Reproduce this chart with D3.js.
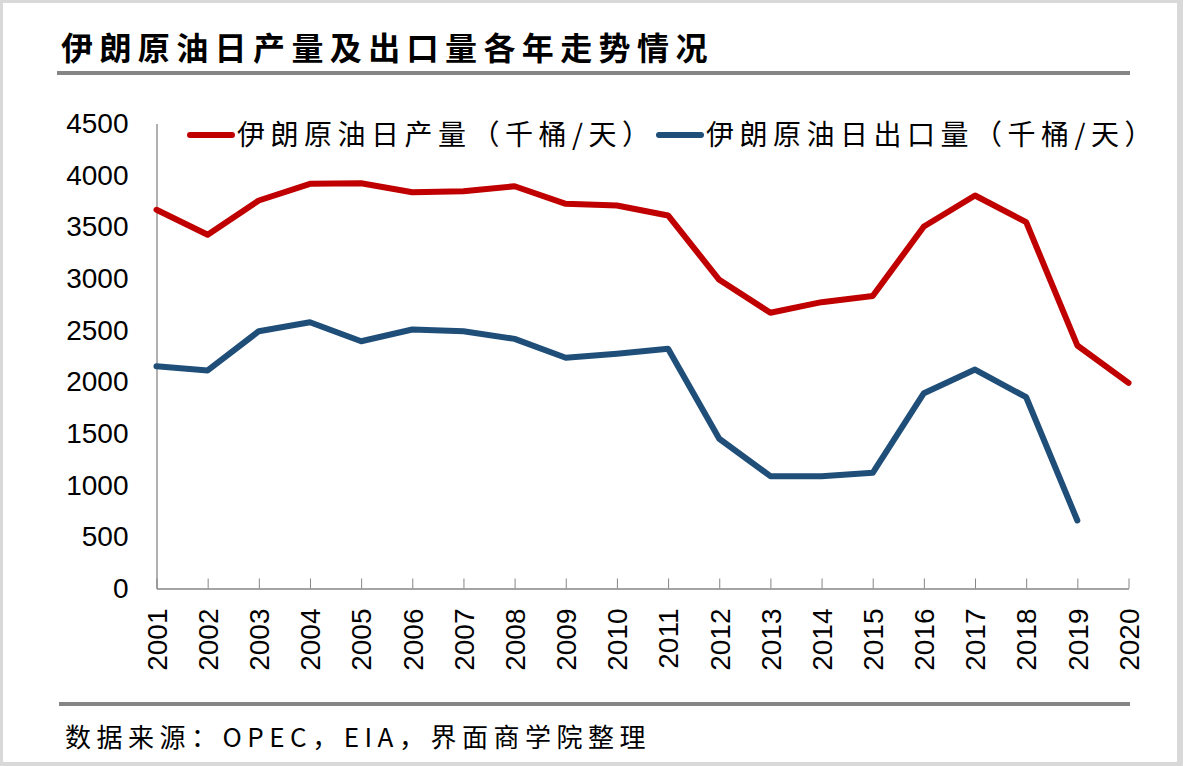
<!DOCTYPE html>
<html>
<head>
<meta charset="utf-8">
<script src="https://cdn.jsdelivr.net/npm/d3@7/dist/d3.min.js"></script>
<style>
  html, body { margin: 0; padding: 0; background: #d9d9d9; }
  svg { display: block; }
</style>
</head>
<body>
<svg id="chart" width="1183" height="766"></svg>
<script>
// ---- data ----
const years = ["2001","2002","2003","2004","2005","2006","2007","2008","2009","2010",
               "2011","2012","2013","2014","2015","2016","2017","2018","2019","2020"];
const production = [3665, 3423, 3755, 3916, 3922, 3835, 3845, 3893, 3723, 3706,
                    3610, 2987, 2668, 2771, 2830, 3503, 3803, 3545, 2352, 1990];
const exports = [2151, 2110, 2490, 2577, 2393, 2506, 2490, 2416, 2233, 2271,
                 2320, 1449, 1087, 1087, 1120, 1890, 2119, 1851, 658, null];
const yTicks = [0, 500, 1000, 1500, 2000, 2500, 3000, 3500, 4000, 4500];
const seriesNames = ["伊朗原油日产量（千桶/天）", "伊朗原油日出口量（千桶/天）"];
const titleText = "伊朗原油日产量及出口量各年走势情况";
const sourceText = "数据来源：OPEC，EIA，界面商学院整理";

const colors = ["#C00000", "#1F4E79"];
const svg = d3.select("#chart");

// frame
svg.append("rect").attr("x", 3).attr("y", 3).attr("width", 1174).attr("height", 759).attr("fill", "#ffffff");

// title
svg.append("text").attr("x", 61).attr("y", 60)
  .attr("font-family", "'Noto Sans CJK SC', sans-serif")
  .attr("font-size", 32).attr("font-weight", "bold")
  .attr("letter-spacing", 6.4).attr("fill", "#000")
  .text(titleText);
svg.append("line").attr("x1", 57).attr("x2", 1130).attr("y1", 73).attr("y2", 73)
  .attr("stroke", "#858585").attr("stroke-width", 4);

// footer
svg.append("line").attr("x1", 59).attr("x2", 1130).attr("y1", 704).attr("y2", 704)
  .attr("stroke", "#858585").attr("stroke-width", 4);
svg.append("text").attr("x", 65).attr("y", 747)
  .attr("font-family", "'Noto Sans CJK SC', sans-serif")
  .attr("font-size", 26).attr("letter-spacing", 5.5).attr("fill", "#000")
  .text(sourceText);

// scales
const x = d3.scalePoint().domain(years).range([156.5, 1128.5]);
const y = d3.scaleLinear().domain([0, 4500]).range([588.5, 123.5]);

// y axis
const yAxis = d3.axisLeft(y).tickValues(yTicks).tickFormat(d3.format("d")).tickSize(0).tickPadding(28);
const gy = svg.append("g").attr("transform", "translate(156.5,0)").call(yAxis);
gy.select(".domain").attr("stroke", "#868686").attr("stroke-width", 1.3);
gy.selectAll("text").attr("font-family", "'Liberation Sans', Arial, sans-serif")
  .attr("font-size", 28).attr("fill", "#000");

// x axis
const xAxis = d3.axisBottom(x).tickSize(-10).tickSizeOuter(0);
const gx = svg.append("g").attr("transform", "translate(0,588.5)").call(xAxis);
gx.select(".domain").attr("stroke", "#868686").attr("stroke-width", 1.3);
gx.selectAll(".tick line").attr("stroke", "#868686").attr("stroke-width", 1);
gx.selectAll("text")
  .attr("font-family", "'Liberation Sans', Arial, sans-serif")
  .attr("font-size", 28).attr("fill", "#000")
  .attr("transform", "rotate(-90)")
  .attr("text-anchor", "end")
  .attr("x", -20).attr("y", 0).attr("dy", "0.35em");

// lines
const line = d3.line()
  .defined(d => d.v !== null)
  .x(d => x(d.year)).y(d => y(d.v));
[production, exports].forEach((arr, i) => {
  const pts = years.map((yr, j) => ({ year: yr, v: arr[j] }));
  svg.append("path").datum(pts)
    .attr("fill", "none").attr("stroke", colors[i]).attr("stroke-width", 6)
    .attr("stroke-linejoin", "round").attr("stroke-linecap", "round")
    .attr("d", line);
});

// legend
const legendX = [190, 659];
seriesNames.forEach((name, i) => {
  const g = svg.append("g").attr("transform", `translate(${legendX[i]},135)`);
  g.append("line").attr("x1", 0).attr("x2", 42).attr("y1", 0).attr("y2", 0)
    .attr("stroke", colors[i]).attr("stroke-width", 6).attr("stroke-linecap", "round");
  g.append("text").attr("x", 47).attr("y", 0).attr("dy", "0.36em")
    .attr("font-family", "'Noto Sans CJK SC', sans-serif")
    .attr("font-size", 28).attr("letter-spacing", 5.5).attr("fill", "#000")
    .text(name);
});
</script>
</body>
</html>
